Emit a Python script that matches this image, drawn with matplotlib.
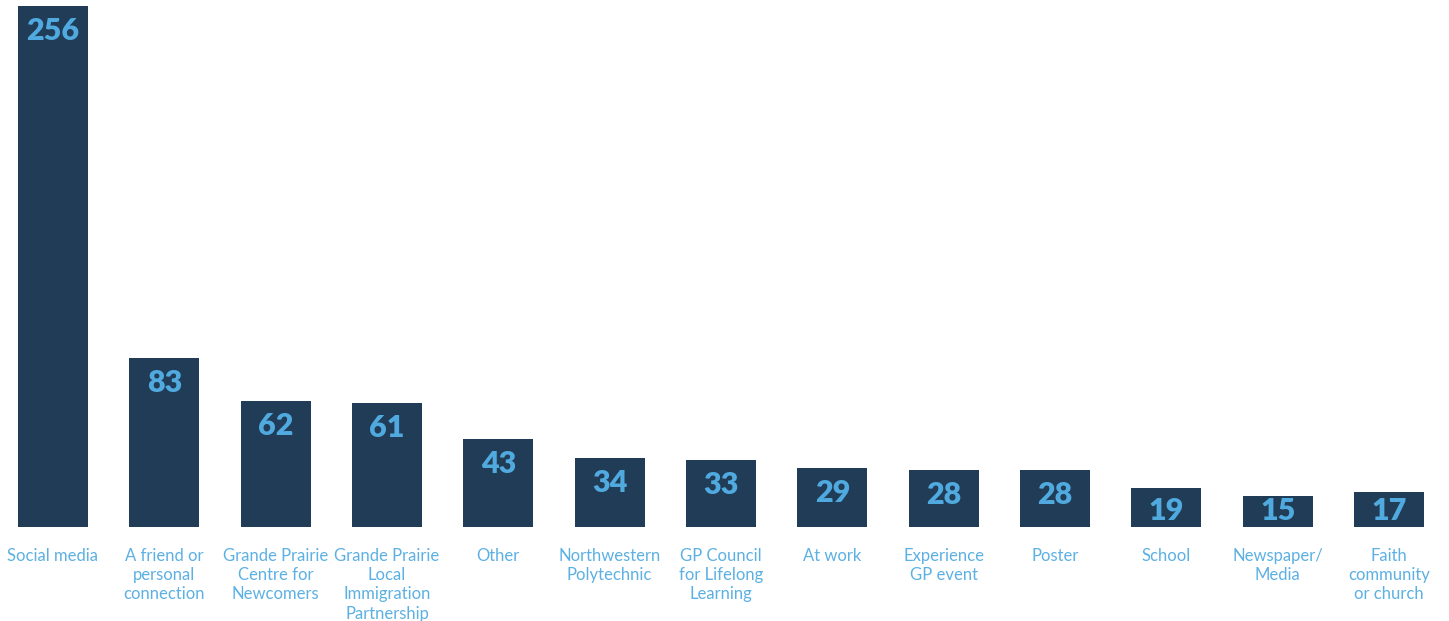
import matplotlib.pyplot as plt
import numpy as np

categories = [
    "Social media",
    "A friend or\npersonal\nconnection",
    "Grande Prairie\nCentre for\nNewcomers",
    "Grande Prairie\nLocal\nImmigration\nPartnership",
    "Other",
    "Northwestern\nPolytechnic",
    "GP Council\nfor Lifelong\nLearning",
    "At work",
    "Experience\nGP event",
    "Poster",
    "School",
    "Newspaper/\nMedia",
    "Faith\ncommunity\nor church",
]
counts = [256, 83, 62, 61, 43, 34, 33, 29, 28, 28, 19, 15, 17]

bar_color = "#203c56"
num_color = "#50aadf"
label_color = "#5cb0e3"

fig = plt.figure(figsize=(14.49, 6.21), dpi=100)
ax = fig.add_axes([0, 0.1514, 1, 0.8389])

x = np.arange(len(categories))
ax.bar(x, counts, width=0.629, color=bar_color)

ax.set_xlim(-0.476, 12.539)
ax.set_ylim(0, 256)

# px per data unit on y
ppu = 0.8389 * 621 / 256
for xi, v in zip(x, counts):
    base = max(v - 34 / ppu, 7 / ppu)
    ax.text(xi, base, str(v), ha="center", va="baseline",
            fontsize=22, fontweight="heavy", family="Lato", color=num_color)

ax.set_xticks(x)
ax.set_xticklabels(categories, fontsize=12, family="Lato", color=label_color,
                   linespacing=1.25, va="top")
ax.tick_params(axis="x", length=0, pad=15)
ax.set_yticks([])
for s in ax.spines.values():
    s.set_visible(False)

fig.savefig("out.png", dpi=100)
